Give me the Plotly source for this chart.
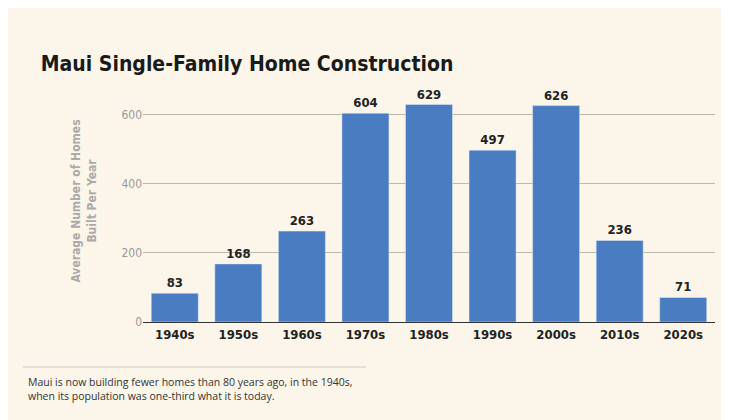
import plotly.graph_objects as go

decades = ["1940s","1950s","1960s","1970s","1980s","1990s","2000s","2010s","2020s"]
homes = [83,168,263,604,629,497,626,236,71]
yticks = [0,200,400,600]

fig = go.Figure(go.Bar(x=decades, y=homes, marker_color="#4A7CC2", width=0.74,
    text=[f"<b>{v}</b>" for v in homes], textposition="outside", cliponaxis=False,
    textfont=dict(family="DejaVu Sans Condensed", size=13, color="#222")))
fig.update_layout(
    width=729, height=420, paper_bgcolor="#FBF6E9", plot_bgcolor="#FBF6E9",
    margin=dict(l=135, r=22, t=72, b=106), showlegend=False,
    title=dict(text="<b>Maui Single-Family Home Construction</b>", x=0.045, y=0.885,
               xanchor="left", font=dict(family="DejaVu Sans Condensed", size=21, color="#1a1a1a")),
    xaxis=dict(tickfont=dict(family="DejaVu Sans Condensed", size=13, color="#222"),
               showline=True, linecolor="#333", linewidth=1, ticks="", tickprefix="<b>", ticksuffix="</b>"),
    yaxis=dict(range=[0,700], tickvals=yticks, gridcolor="#BDB8AC", zeroline=False,
               tickfont=dict(family="DejaVu Sans Condensed", size=12, color="#999"),
               title=dict(text="<b>Average Number of Homes<br>Built Per Year</b>", standoff=22,
                          font=dict(family="DejaVu Sans Condensed", size=12, color="#aaa"))),
    shapes=[dict(type="line", xref="paper", yref="paper", x0=-0.21, x1=0.39, y0=-0.186, y1=-0.186,
                 line=dict(color="#ccc", width=1))],
    annotations=[dict(text="Maui is now building fewer homes than 80 years ago, in the 1940s,<br>when its population was one-third what it is today.",
                      xref="paper", yref="paper", x=-0.205, y=-0.21, xanchor="left", yanchor="top",
                      align="left", showarrow=False,
                      font=dict(family="Open Sans", size=10.5, color="#333"))],
)
fig.write_html("out.html")
